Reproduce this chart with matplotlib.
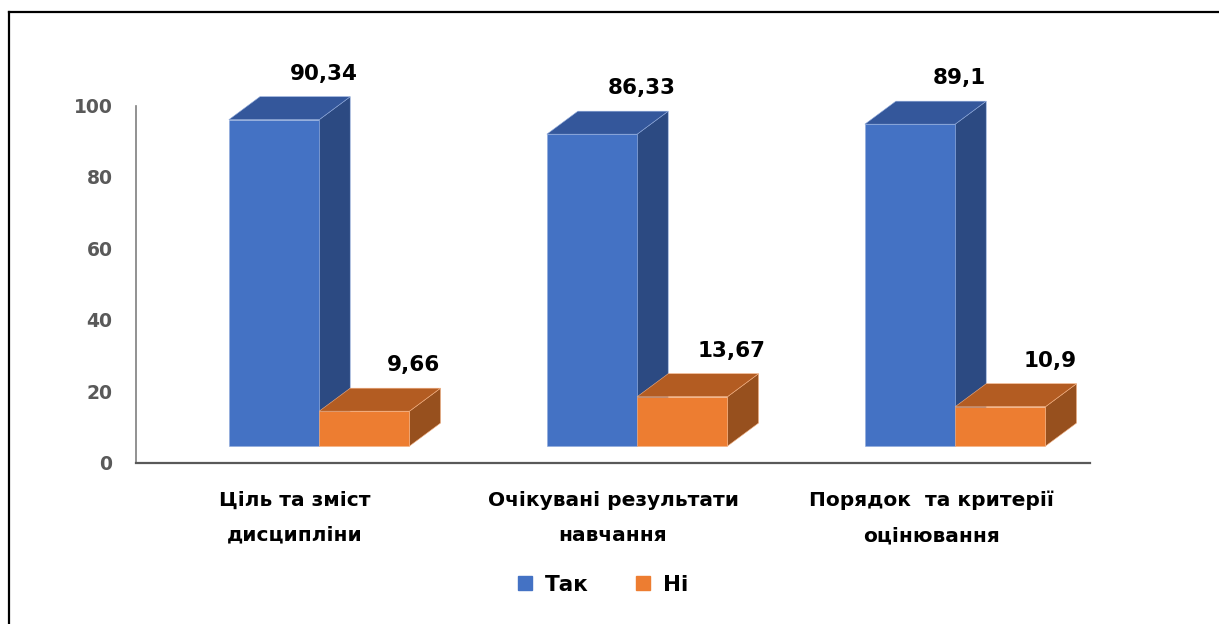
import matplotlib
matplotlib.use("Agg")
import matplotlib.pyplot as plt
from matplotlib.patches import Polygon
from matplotlib.lines import Line2D

# ---- data ----
categories = ["Ціль та зміст\nдисципліни",
              "Очікувані результати\nнавчання",
              "Порядок  та критерії\nоцінювання"]
series_names = ["Так", "Ні"]
tak_values = [90.34, 86.33, 89.1]
ni_values = [9.66, 13.67, 10.9]
tak_labels = ["90,34", "86,33", "89,1"]
ni_labels = ["9,66", "13,67", "10,9"]
yticks = [0, 20, 40, 60, 80, 100]

FONT = ["DejaVu Sans"]
plt.rcParams["font.family"] = FONT
plt.rcParams["font.weight"] = "bold"

W, H = 1219, 624
fig = plt.figure(figsize=(W / 100, H / 100), dpi=100)
ax = fig.add_axes([136 / W, (H - 462.5) / H, 954 / W, 357 / H])
ax.set_xlim(0, 3)
ax.set_ylim(0, 100)

# 3D styling parameters (perspective look)
BAR_W = 0.284
SHIFT = 0.076
Y0 = 4.6
DX = 0.0976
DY = 6.44
PERSP = 1.012

styles = {
    "Так": dict(front="#4472C4", top="#34579B", side="#2C4A82", edge="#8EA9DB"),
    "Ні": dict(front="#ED7D31", top="#B35C22", side="#97501E", edge="#F4B183"),
}


def draw_bar(x0, v, st, label):
    x1 = x0 + BAR_W
    yt = Y0 + v * PERSP
    side = [(x1, Y0), (x1 + DX, Y0 + DY), (x1 + DX, yt + DY), (x1, yt)]
    top = [(x0, yt), (x1, yt), (x1 + DX, yt + DY), (x0 + DX, yt + DY)]
    front = [(x0, Y0), (x1, Y0), (x1, yt), (x0, yt)]
    for poly, col in ((side, st["side"]), (top, st["top"]), (front, st["front"])):
        ax.add_patch(Polygon(poly, closed=True, facecolor=col,
                             edgecolor=st["edge"], linewidth=0.4,
                             clip_on=False, zorder=3))
    ax.text(x1 + 0.014, yt + DY + 3.6, label, ha="center", va="bottom",
            fontsize=15.5, fontweight="bold", color="black", zorder=4,
            clip_on=False)


for i in range(len(categories)):
    c = i + 0.5
    draw_bar(c + SHIFT - BAR_W, tak_values[i], styles["Так"], tak_labels[i])
    draw_bar(c + SHIFT, ni_values[i], styles["Ні"], ni_labels[i])

# axes styling
for s in ("top", "right"):
    ax.spines[s].set_visible(False)
ax.spines["left"].set_color("#7F7F7F")
ax.spines["left"].set_linewidth(1.2)
ax.spines["bottom"].set_color("#595959")
ax.spines["bottom"].set_linewidth(1.6)
ax.spines["bottom"].set_zorder(5)

ax.set_yticks(yticks)
ax.set_yticklabels([str(t) for t in yticks], fontsize=13.5,
                   fontweight="bold", color="#595959")
ax.tick_params(axis="y", length=0, pad=17)
ax.set_xticks([i + 0.5 for i in range(len(categories))])
ax.set_xticklabels(categories, fontsize=14.5, fontweight="bold",
                   color="black", linespacing=2.05)
ax.tick_params(axis="x", length=0, pad=20.5)

# legend
handles = [Line2D([], [], marker="s", linestyle="none", markersize=10,
                  markerfacecolor=styles[n]["front"],
                  markeredgecolor=styles[n]["front"]) for n in series_names]
fig.legend(handles, series_names, loc="center", bbox_to_anchor=(601 / W, 1 - 585 / H),
           ncol=2, frameon=False, fontsize=15.5, handletextpad=0.45,
           columnspacing=2.0, handlelength=1.0)

# frame lines (left and top)
fig.add_artist(Line2D([9 / W, 9 / W], [0, 1 - 11.5 / H], transform=fig.transFigure,
                      color="black", linewidth=1.6))
fig.add_artist(Line2D([9 / W, 1], [1 - 11.5 / H, 1 - 11.5 / H], transform=fig.transFigure,
                      color="black", linewidth=1.6))

fig.savefig("out.png", dpi=100, facecolor="white")
